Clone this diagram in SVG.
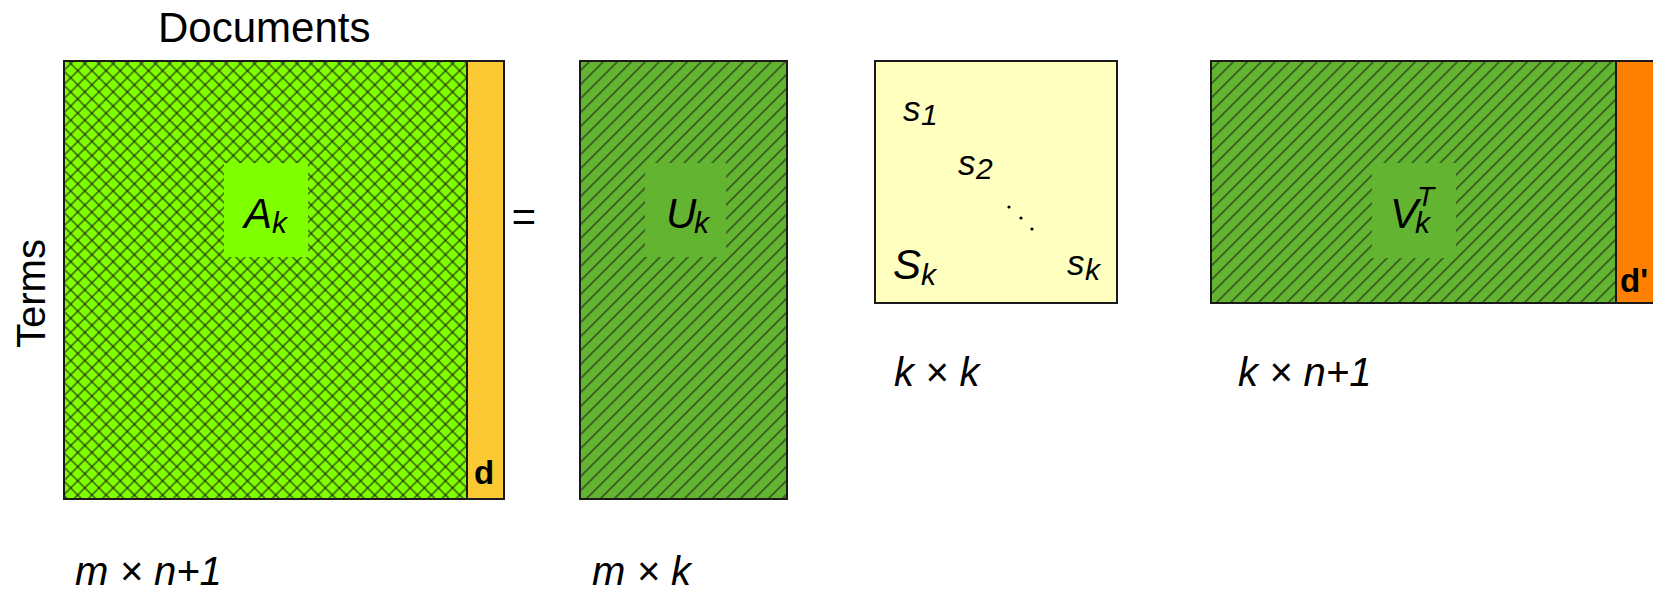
<svg xmlns="http://www.w3.org/2000/svg" width="1653" height="589" viewBox="0 0 1653 589">
  <style>
    text { font-family: "Liberation Sans", Arial, Helvetica, sans-serif; fill: #000; }
    .it { font-style: italic; }
    .lbl { font-size: 42px; }
    .dim { font-size: 40px; font-style: italic; }
    .sub { font-size: 30px; font-style: italic; }
    .sup { font-size: 28px; font-style: italic; }
    .bold { font-weight: bold; font-size: 33px; }
    .frame { stroke: #1a1a1a; stroke-width: 2; }
  </style>
  <defs>
    <pattern id="cross" patternUnits="userSpaceOnUse" width="10" height="10" patternTransform="rotate(45)">
      <rect width="10" height="10" fill="#80FF00"/>
      <path d="M0,5 H10 M5,0 V10" stroke="#111" stroke-width="1"/>
    </pattern>
    <pattern id="diag" patternUnits="userSpaceOnUse" width="9.9" height="9.9" patternTransform="rotate(45)">
      <rect width="9.9" height="9.9" fill="#63B531"/>
      <path d="M4.95,0 V9.9" stroke="#111" stroke-width="1"/>
    </pattern>
  </defs>
  <rect width="1653" height="589" fill="#fff"/>

  <g id="axis-labels">
    <text x="158" y="42" font-size="42">Documents</text>
    <text transform="translate(45,348) rotate(-90)" font-size="40">Terms</text>
  </g>

  <g id="matrix-A">
    <rect x="64" y="61" width="403" height="438" fill="url(#cross)"/>
    <rect x="467" y="61" width="37" height="438" fill="#FBC934"/>
    <rect x="64" y="61" width="440" height="438" fill="none" class="frame"/>
    <line x1="467" y1="61" x2="467" y2="499" class="frame"/>
    <rect x="224" y="163" width="84" height="94" fill="#80FF00"/>
    <text x="244" y="228" class="it lbl">A</text>
    <text x="272" y="233" class="sub">k</text>
    <text x="474" y="484" class="bold">d</text>
  </g>

  <g id="equals">
    <text x="511" y="231" class="it" font-size="42">=</text>
  </g>

  <g id="matrix-U">
    <rect x="580" y="61" width="207" height="438" fill="url(#diag)" class="frame"/>
    <rect x="645" y="163" width="81" height="94" fill="#63B531"/>
    <text x="666" y="228" class="it lbl">U</text>
    <text x="694" y="233" class="sub">k</text>
  </g>

  <g id="matrix-S">
    <rect x="875" y="61" width="242" height="242" fill="#FFFFC0" class="frame"/>
    <text x="903" y="121" class="it" font-size="35">s</text>
    <text x="921" y="125" class="sub">1</text>
    <text x="958" y="175" class="it" font-size="35">s</text>
    <text x="976" y="179" class="sub">2</text>
    <circle cx="1009" cy="207" r="1.6" fill="#000"/>
    <circle cx="1021" cy="218" r="1.6" fill="#000"/>
    <circle cx="1032" cy="229" r="1.6" fill="#000"/>
    <text x="893" y="279" class="it lbl">S</text>
    <text x="921" y="285" class="sub">k</text>
    <text x="1067" y="275" class="it" font-size="35">s</text>
    <text x="1085" y="280" class="sub">k</text>
  </g>

  <g id="matrix-V">
    <rect x="1211" y="61" width="405" height="242" fill="url(#diag)" class="frame"/>
    <rect x="1616" y="61" width="45" height="242" fill="#FF8000" class="frame"/>
    <rect x="1372" y="163" width="84" height="95" fill="#63B531"/>
    <text x="1390" y="228" class="it lbl">V</text>
    <text x="1417" y="206" class="sup">T</text>
    <text x="1415" y="233" class="sub">k</text>
    <text x="1620" y="292" class="bold">d'</text>
  </g>

  <g id="dimensions">
    <text x="75" y="585" class="dim">m × n+1</text>
    <text x="592" y="585" class="dim">m × k</text>
    <text x="894" y="386" class="dim">k × k</text>
    <text x="1238" y="386" class="dim">k × n+1</text>
  </g>

  <g id="connectors"/>
</svg>
